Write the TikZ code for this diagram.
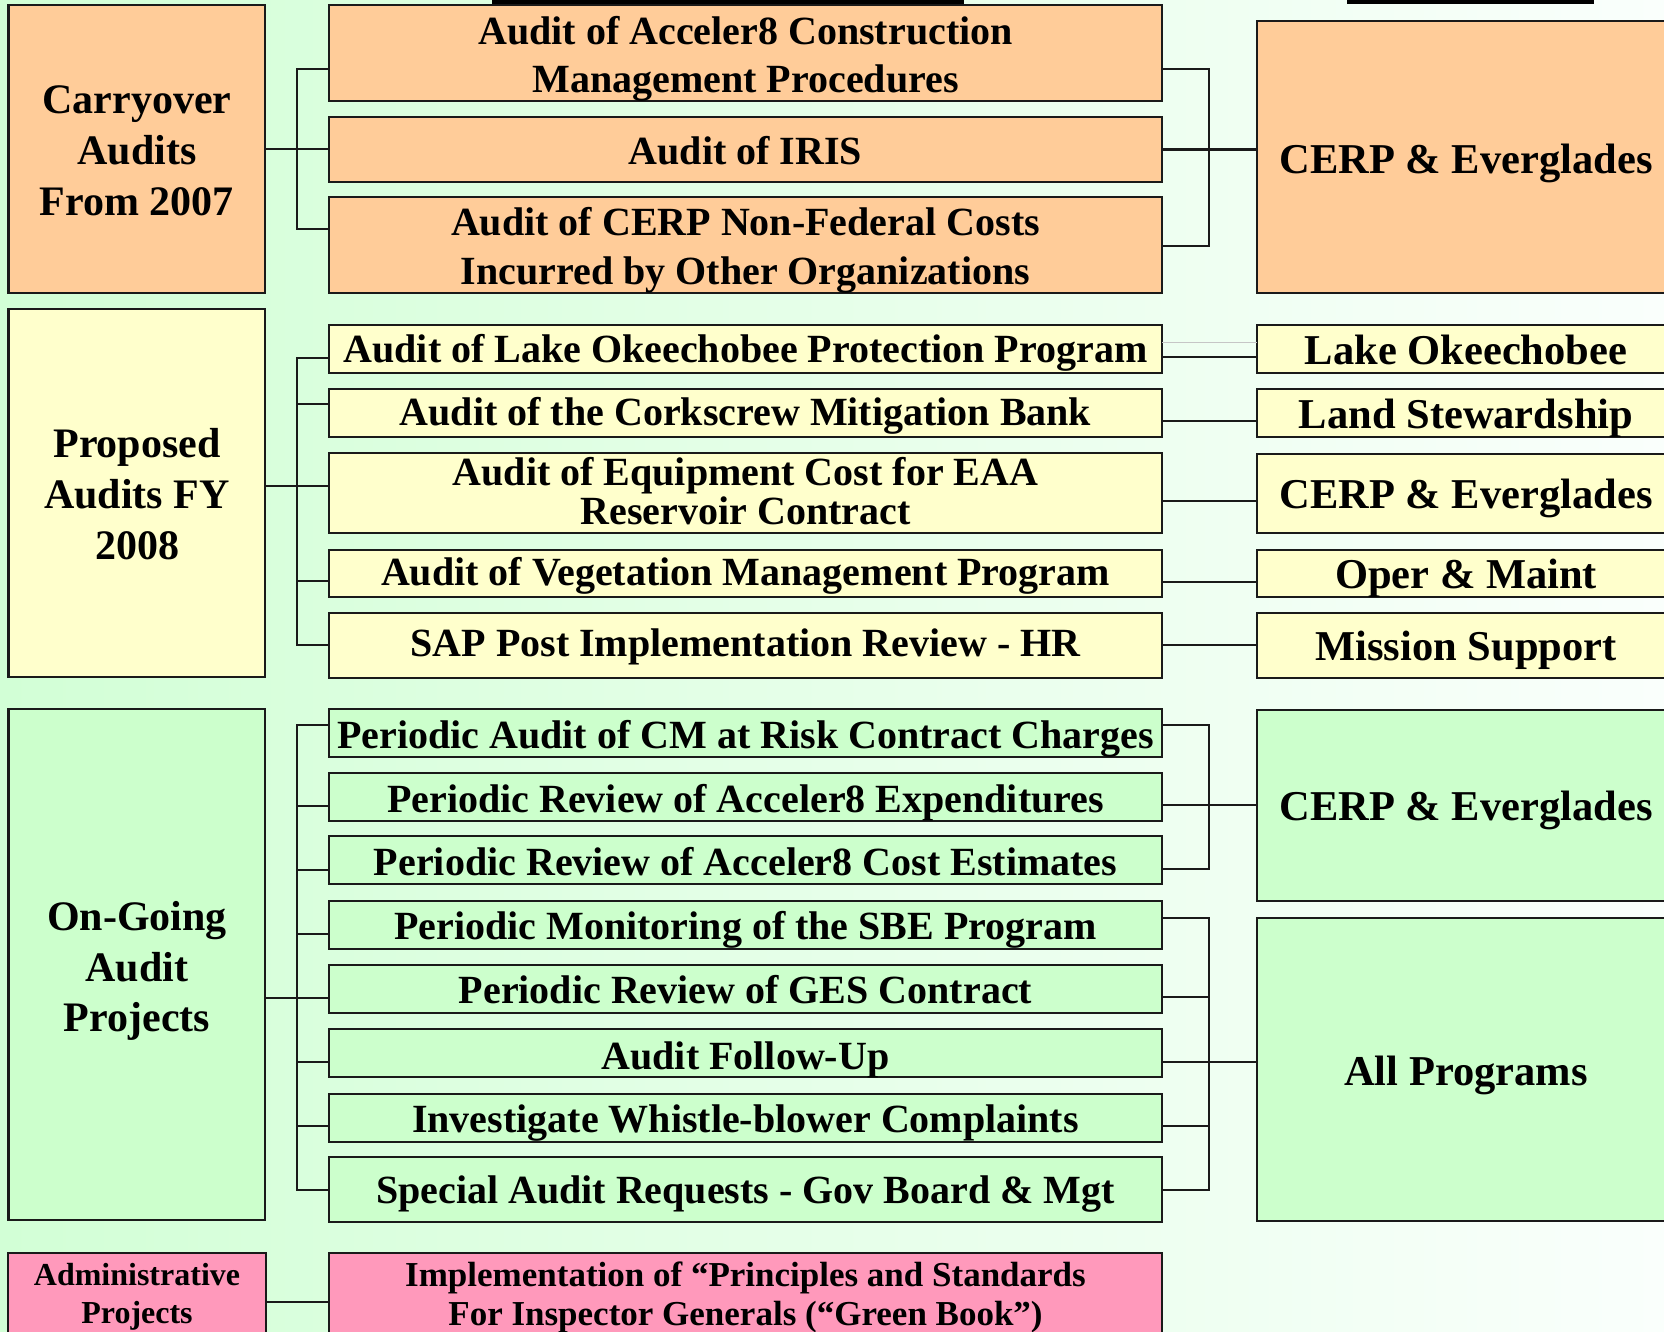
\documentclass[tikz,border=0pt]{standalone}
\usepackage{fontspec}
\setmainfont{Liberation Serif}
\definecolor{orng}{HTML}{FFCC99}
\definecolor{ylw}{HTML}{FFFFCC}
\definecolor{grn}{HTML}{CCFFCC}
\definecolor{pnk}{HTML}{FF99BB}
\definecolor{bgl}{RGB}{210,255,214}
\definecolor{bgr}{RGB}{250,255,252}
\definecolor{edge}{HTML}{1A1A1A}
\tikzset{
  box/.style={draw=edge, line width=2.8pt, inner sep=0pt, outer sep=0pt},
  conn/.style={draw=edge, line width=2.5pt},
  lbl/.style={anchor=base, inner sep=0pt, outer sep=0pt, text=black},
}
\newcommand\mybox[6]{\node[box, fill=#6, minimum width={(#4)-(#2)}, minimum height={(#5)-(#3)}] (#1) at ({((#2)+(#4))/2},{((#3)+(#5))/2}) {};}
\newcommand\mytxt[5]{\node[lbl, font=\bfseries\fontsize{#4}{#4}\selectfont] (#1) at (#2,#3) {#5};}
\begin{document}
\begin{tikzpicture}[x=1pt,y=-1pt]
\useasboundingbox (0,0) rectangle (1664,1331);
\shade[left color=bgl, right color=bgr] (0,0) rectangle (1664,1331);
% title bars cut off at top
\fill[black] (492,0) rectangle (964,5);
\fill[black] (1347,0) rectangle (1594,4);

% ---------- Section 1: Carryover ----------
\mybox{co}{8.5}{5}{265}{293}{orng}
\mytxt{coa}{137}{113}{42}{Carryover}
\mytxt{cob}{137}{164}{42}{Audits}
\mytxt{coc}{137}{215}{42}{From 2007}
\mybox{m11}{329}{5}{1162}{101}{orng}
\mytxt{m11a}{745.5}{44}{40}{Audit of Acceler8 Construction}
\mytxt{m11b}{745.5}{92}{40}{Management Procedures}
\mybox{m12}{329}{117}{1162}{182}{orng}
\mytxt{m12a}{745.5}{164}{40}{Audit of IRIS}
\mybox{m13}{329}{197}{1162}{293}{orng}
\mytxt{m13a}{745.5}{235}{40}{Audit of CERP Non-Federal Costs}
\mytxt{m13b}{745.5}{284}{40}{Incurred by Other Organizations}
\mybox{r1}{1257}{21}{1670}{293}{orng}
\mytxt{r1a}{1466}{173}{42.5}{CERP \& Everglades}
\coordinate (b1t) at (297,69);
\coordinate (b1b) at (297,229);
\coordinate (c1t) at (1209,69);
\coordinate (c1b) at (1209,246);
\draw[conn] (co.east) -- (m12.west |- co.east);
\draw[conn] (m11.west |- b1t) -- (b1t) -- (b1b) -- (m13.west |- b1b);
\draw[conn] (m11.east |- c1t) -- (c1t) -- (c1b) -- (m13.east |- c1b);
\draw[conn] (m12.east) -- (r1.west |- m12.east);

% ---------- Section 2: Proposed ----------
\mybox{pa}{8.5}{309}{265}{677}{ylw}
\mytxt{paa}{137}{457}{42}{Proposed}
\mytxt{pab}{137}{508}{42}{Audits FY}
\mytxt{pac}{137}{559}{42}{2008}
\mybox{m21}{329}{325}{1162}{373}{ylw}
\mytxt{m21a}{745.5}{362}{40}{Audit of Lake Okeechobee Protection Program}
\mybox{m22}{329}{389}{1162}{437}{ylw}
\mytxt{m22a}{745.5}{425}{40}{Audit of the Corkscrew Mitigation Bank}
\mybox{m23}{329}{453}{1162}{533}{ylw}
\mytxt{m23a}{745.5}{485}{40}{Audit of Equipment Cost for EAA}
\mytxt{m23b}{745.5}{524}{40}{Reservoir Contract}
\mybox{m24}{329}{550}{1162}{597}{ylw}
\mytxt{m24a}{745.5}{585}{40}{Audit of Vegetation Management Program}
\mybox{m25}{329}{613}{1162}{678}{ylw}
\mytxt{m25a}{745.5}{656}{40}{SAP Post Implementation Review - HR}
\mybox{r21}{1257}{325}{1670}{373}{ylw}
\mytxt{r21a}{1466}{364}{42.5}{Lake Okeechobee}
\mybox{r22}{1257}{389}{1670}{437}{ylw}
\mytxt{r22a}{1466}{428}{42.5}{Land Stewardship}
\mybox{r23}{1257}{454}{1670}{533}{ylw}
\mytxt{r23a}{1466}{508}{42.5}{CERP \& Everglades}
\mybox{r24}{1257}{550}{1670}{597}{ylw}
\mytxt{r24a}{1466}{588}{42.5}{Oper \& Maint}
\mybox{r25}{1257}{613}{1670}{678}{ylw}
\mytxt{r25a}{1466}{660}{42.5}{Mission Support}
\coordinate (b2t) at (297,358);
\coordinate (b2b) at (297,645);
\coordinate (b2m) at (297,486);
\draw[conn] (pa.east |- b2m) -- (m23.west |- b2m);
\draw[conn] (m21.west |- b2t) -- (b2t) -- (b2b) -- (m25.west |- b2b);
\draw[conn] (b2t |- 0,404) -- (m22.west |- 0,404);
\draw[conn] (b2t |- 0,581) -- (m24.west |- 0,581);
\draw[gray!45, line width=1pt] (m21.east |- 0,342) -- (r21.west |- 0,342);
\draw[conn] (m21.east |- 0,357) -- (r21.west |- 0,357);
\draw[conn] (m22.east |- 0,421) -- (r22.west |- 0,421);
\draw[conn] (m23.east |- 0,501) -- (r23.west |- 0,501);
\draw[conn] (m24.east |- 0,582) -- (r24.west |- 0,582);
\draw[conn] (m25.east |- 0,645) -- (r25.west |- 0,645);

% ---------- Section 3: On-Going ----------
\mybox{og}{8.5}{709}{265}{1220}{grn}
\mytxt{oga}{137}{930}{42}{On-Going}
\mytxt{ogb}{137}{981}{42}{Audit}
\mytxt{ogc}{137}{1031}{42}{Projects}
\mybox{m31}{329}{709}{1162}{757}{grn}
\mytxt{m31a}{745.5}{748}{40}{Periodic Audit of CM at Risk Contract Charges}
\mybox{m32}{329}{773}{1162}{821}{grn}
\mytxt{m32a}{745.5}{812}{40}{Periodic Review of Acceler8 Expenditures}
\mybox{m33}{329}{836}{1162}{884}{grn}
\mytxt{m33a}{745.5}{875}{40}{Periodic Review of Acceler8 Cost Estimates}
\mybox{m34}{329}{901}{1162}{949}{grn}
\mytxt{m34a}{745.5}{939}{40}{Periodic Monitoring of the SBE Program}
\mybox{m35}{329}{965}{1162}{1013}{grn}
\mytxt{m35a}{745.5}{1003}{40}{Periodic Review of GES Contract}
\mybox{m36}{329}{1029}{1162}{1077}{grn}
\mytxt{m36a}{745.5}{1069}{40}{Audit Follow-Up}
\mybox{m37}{329}{1094}{1162}{1142}{grn}
\mytxt{m37a}{745.5}{1132}{40}{Investigate Whistle-blower Complaints}
\mybox{m38}{329}{1157}{1162}{1222}{grn}
\mytxt{m38a}{745.5}{1203}{40}{Special Audit Requests - Gov Board \& Mgt}
\mybox{r31}{1257}{710}{1670}{901}{grn}
\mytxt{r31a}{1466}{820}{42.5}{CERP \& Everglades}
\mybox{r32}{1257}{918}{1670}{1221}{grn}
\mytxt{r32a}{1466}{1085}{42.5}{All Programs}
\coordinate (b3t) at (297,725);
\coordinate (b3b) at (297,1190);
\coordinate (b3m) at (297,998);
\draw[conn] (og.east |- b3m) -- (m35.west |- b3m);
\draw[conn] (m31.west |- b3t) -- (b3t) -- (b3b) -- (m38.west |- b3b);
\draw[conn] (b3t |- 0,806) -- (m32.west |- 0,806);
\draw[conn] (b3t |- 0,870) -- (m33.west |- 0,870);
\draw[conn] (b3t |- 0,934) -- (m34.west |- 0,934);
\draw[conn] (b3t |- 0,1062) -- (m36.west |- 0,1062);
\draw[conn] (b3t |- 0,1126) -- (m37.west |- 0,1126);
\coordinate (c3t) at (1209,725);
\coordinate (c3b) at (1209,869);
\draw[conn] (m31.east |- c3t) -- (c3t) -- (c3b) -- (m33.east |- c3b);
\draw[conn] (m32.east |- 0,805) -- (r31.west |- 0,805);
\coordinate (c4t) at (1209,918);
\coordinate (c4b) at (1209,1190);
\draw[conn] (m34.east |- c4t) -- (c4t) -- (c4b) -- (m38.east |- c4b);
\draw[conn] (m35.east |- 0,997) -- (c4t |- 0,997);
\draw[conn] (m36.east |- 0,1062) -- (r32.west |- 0,1062);
\draw[conn] (m37.east |- 0,1126) -- (c4t |- 0,1126);

% ---------- Section 4: Administrative ----------
\mybox{ad}{8}{1253}{266}{1345}{pnk}
\mytxt{ada}{137}{1285}{32}{Administrative}
\mytxt{adb}{137}{1323}{32}{Projects}
\mybox{m41}{329}{1253}{1162}{1345}{pnk}
\mytxt{m41a}{745.5}{1286}{35}{Implementation of “Principles and Standards}
\mytxt{m41b}{745.5}{1325}{35}{For Inspector Generals (“Green Book”)}
\draw[conn] (ad.east |- 0,1302) -- (m41.west |- 0,1302);
\end{tikzpicture}
\end{document}
